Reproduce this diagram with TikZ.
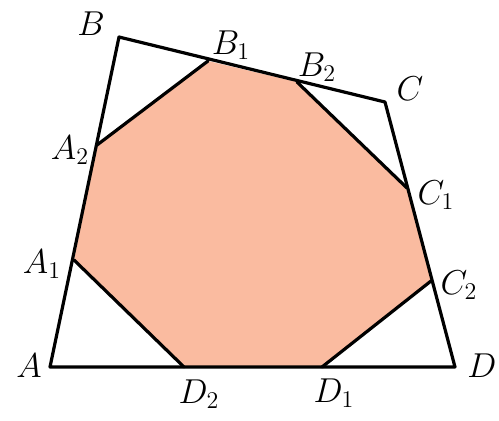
\documentclass[tikz,border=0pt]{standalone}
\usepackage{amsmath,amssymb}
\usepackage{xcolor}
\usepackage{tikz}
\definecolor{octfill}{RGB}{250,187,160}

\begin{document}
\begin{tikzpicture}[x=0.5pt,y=-0.5pt,line join=round,line cap=round,
  lbl/.style={inner sep=1pt,font=\fontsize{18}{21}\selectfont}]
\useasboundingbox (0,0) rectangle (499,420);
\coordinate (A) at (50,367);
\coordinate (B) at (119,37);
\coordinate (C) at (385,102);
\coordinate (D) at (455,367);
\coordinate (A1) at (74,260);
\coordinate (A2) at (97,145);
\coordinate (B1) at (208,61);
\coordinate (B2) at (297,82);
\coordinate (C1) at (407,188);
\coordinate (C2) at (431,281);
\coordinate (D1) at (322,367);
\coordinate (D2) at (184,367);
\fill[octfill] (A1) -- (A2) -- (B1) -- (B2) -- (C1) -- (C2) -- (D1) -- (D2) -- cycle;
\draw[line width=1.6pt] (A) -- (B) -- (C) -- (D) -- cycle;
\draw[line width=1.6pt] (A2) -- (B1);
\draw[line width=1.6pt] (B2) -- (C1);
\draw[line width=1.6pt] (C2) -- (D1);
\draw[line width=1.6pt] (D2) -- (A1);
\node[lbl] (lA) at (29,366) {$A$};
\node[lbl] (lB) at (91,24) {$B$};
\node[lbl] (lC) at (410,89) {$C$};
\node[lbl] (lD) at (482,366) {$D$};
\node[lbl] (lA1) at (42,264) {$A_1$};
\node[lbl] (lA2) at (70,150) {$A_2$};
\node[lbl] (lB1) at (231,45) {$B_1$};
\node[lbl] (lB2) at (317,67) {$B_2$};
\node[lbl] (lC1) at (436,195) {$C_1$};
\node[lbl] (lC2) at (459,285) {$C_2$};
\node[lbl] (lD1) at (334,393) {$D_1$};
\node[lbl] (lD2) at (199,394) {$D_2$};
\end{tikzpicture}
\end{document}
